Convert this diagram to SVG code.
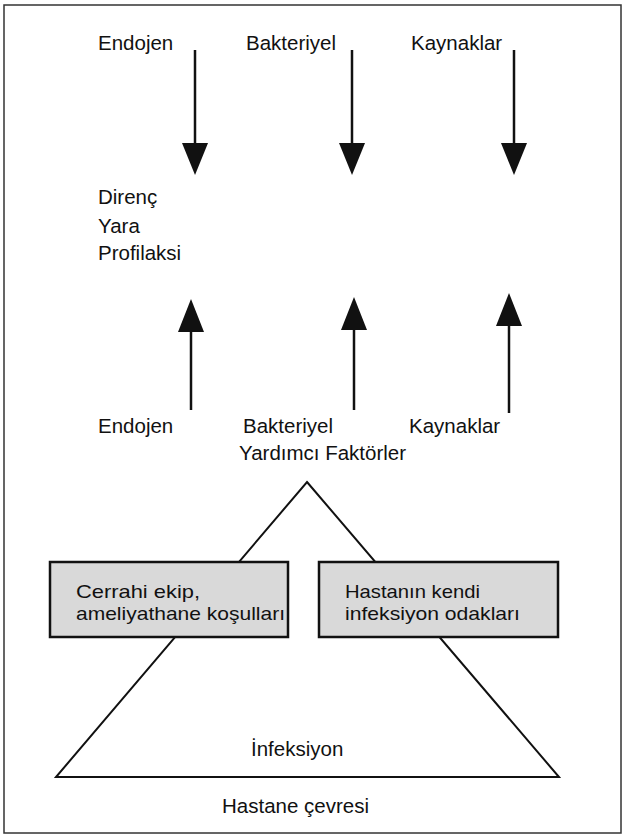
<svg xmlns="http://www.w3.org/2000/svg" width="626" height="836" viewBox="0 0 626 836">
<style>
text{font-family:"Liberation Sans",Arial,sans-serif;font-size:20.5px;fill:#111}
text.bx{font-size:19px}
.ln{stroke:#111;stroke-width:2.5;fill:none}
.box{fill:#d9d9d9;stroke:#111;stroke-width:2.5}
</style>
<rect x="4" y="5" width="617" height="828" fill="#fff" stroke="#333" stroke-width="1.5"/>
<g id="connectors">
<line class="ln" x1="195" y1="50" x2="195" y2="145"/>
<path d="M182,143 L208,143 L195,175 Z" fill="#111"/>
<line class="ln" x1="352" y1="50" x2="352" y2="145"/>
<path d="M339,143 L365,143 L352,175 Z" fill="#111"/>
<line class="ln" x1="514" y1="50" x2="514" y2="145"/>
<path d="M501,143 L527,143 L514,175 Z" fill="#111"/>
<line class="ln" x1="191" y1="330" x2="191" y2="410"/>
<path d="M178,332 L204,332 L191,299 Z" fill="#111"/>
<line class="ln" x1="354" y1="330" x2="354" y2="410"/>
<path d="M341,330 L367,330 L354,297 Z" fill="#111"/>
<line class="ln" x1="509" y1="326" x2="509" y2="413"/>
<path d="M496,326 L522,326 L509,293 Z" fill="#111"/>
</g>
<g id="top-labels">
<text x="98" y="50">Endojen</text>
<text x="246" y="50">Bakteriyel</text>
<text x="411" y="50">Kaynaklar</text>
</g>
<g id="host-factors">
<text x="98" y="204">Direnç</text>
<text x="98" y="233">Yara</text>
<text x="98" y="260">Profilaksi</text>
</g>
<g id="bottom-labels">
<text x="98" y="433">Endojen</text>
<text x="243" y="433">Bakteriyel</text>
<text x="409" y="433">Kaynaklar</text>
<text x="239" y="460">Yardımcı Faktörler</text>
</g>
<g id="triangle">
<path d="M307,482 L559,777 L56,777 Z" fill="none" stroke="#111" stroke-width="2"/>
<text x="251" y="756">İnfeksiyon</text>
</g>
<g id="box-left">
<rect class="box" x="50" y="562" width="238" height="75"/>
<text class="bx" x="76" y="598" textLength="124" lengthAdjust="spacingAndGlyphs">Cerrahi ekip,</text>
<text class="bx" x="76" y="620" textLength="209" lengthAdjust="spacingAndGlyphs">ameliyathane koşulları</text>
</g>
<g id="box-right">
<rect class="box" x="319" y="562" width="239" height="75"/>
<text class="bx" x="345" y="598" textLength="135" lengthAdjust="spacingAndGlyphs">Hastanın kendi</text>
<text class="bx" x="345" y="620" textLength="175" lengthAdjust="spacingAndGlyphs">infeksiyon odakları</text>
</g>
<g id="environment">
<text x="222" y="813">Hastane çevresi</text>
</g>
</svg>
